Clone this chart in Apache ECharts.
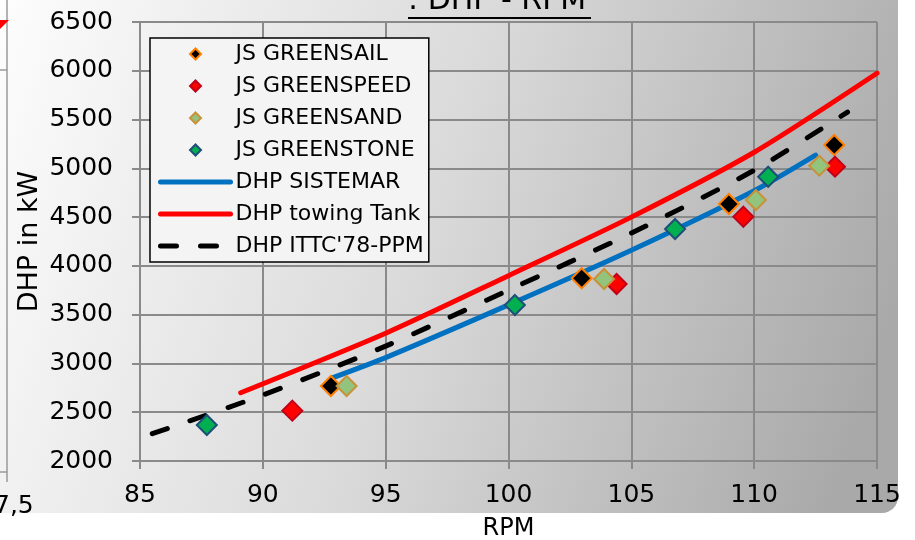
<!DOCTYPE html>
<html><head><meta charset="utf-8">
<script src="https://cdn.jsdelivr.net/npm/echarts@6/dist/echarts.min.js"></script>
<style>html,body{margin:0;padding:0;background:#fff}#c{width:915px;height:540px}</style>
</head><body><div id="c"></div>
<script>
// ---- data ----
const xMin = 85, xMax = 115, xStep = 5;
const yMin = 2000, yMax = 6500, yStep = 500;

const seriesNames = ['JS GREENSAIL','JS GREENSPEED','JS GREENSAND','JS GREENSTONE','DHP SISTEMAR','DHP towing Tank',"DHP ITTC'78-PPM"];

const greensailRPM = [92.77, 102.98, 108.97, 113.26];
const greensailDHP = [2769, 3873, 4634, 5239];

const greenspeedRPM = [91.2, 104.4, 109.56, 113.29];
const greenspeedDHP = [2516, 3814, 4504, 5017];

const greensandRPM = [93.41, 103.89, 110.07, 112.65];
const greensandDHP = [2769, 3866, 4675, 5027];

const greenstoneRPM = [87.72, 100.26, 106.78, 110.57];
const greenstoneDHP = [2369, 3599, 4378, 4914];

const sistemarRPM = [92.8, 95, 100, 105, 110, 112.5];
const sistemarDHP = [2850, 3060, 3600, 4160, 4770, 5135];

const towingRPM = [89.1, 95, 100, 105, 110, 115];
const towingDHP = [2700, 3310, 3900, 4500, 5165, 5975];

const ittcRPM = [85.5, 90, 95, 100, 105, 110, 113.8];
const ittcDHP = [2280, 2676, 3178, 3752, 4336, 4980, 5577];

// ---- helpers ----
const zip = (a, b) => a.map((v, i) => [v, b[i]]);
const FONT = 'DejaVu Sans';
const DIAMOND = 'path://M5,0 L10,5 L5,10 L0,5 Z';
const lineColors = ['#0070c0', '#ff0000', '#000000'];
const DASH = [16, 24];

function scatter(name, xs, ys, fill, border) {
  return {
    name, type: 'scatter', z: 4,
    symbol: 'diamond', symbolSize: 20,
    itemStyle: { color: fill, borderColor: border, borderWidth: 2, opacity: 1 },
    data: zip(xs, ys)
  };
}
function line(name, xs, ys, color, dashed) {
  return {
    name, type: 'line', z: 2, smooth: 0.25, showSymbol: false, symbol: 'none',
    itemStyle: { color },
    lineStyle: { color, width: 5, cap: 'round', join: 'round', type: dashed ? DASH : 'solid' },
    data: zip(xs, ys)
  };
}

const chart = echarts.init(document.getElementById('c'), null, { renderer: 'canvas' });
const axisGray = '#8a8a8a';

const legendData = seriesNames.map((n, i) => i < 4
  ? { name: n, icon: DIAMOND }
  : { name: n, itemStyle: { opacity: 0 },
      lineStyle: { color: lineColors[i - 4], width: 5, cap: 'round', type: i === 6 ? DASH : 'solid', opacity: 1 } });

chart.setOption({
  animation: false,
  backgroundColor: '#ffffff',
  textStyle: { fontFamily: FONT },
  graphic: [
    { type: 'rect', z: -100, silent: true,
      shape: { x: 0, y: 0, width: 898, height: 513, r: [0, 0, 16, 0] },
      style: { fill: { type: 'linear', x: 0, y: 0, x2: 900, y2: 300, global: true,
        colorStops: [{ offset: 0, color: '#fdfdfd' }, { offset: 0.5, color: '#dadada' }, { offset: 1, color: '#a9a9a9' }] } } },
    // neighbouring chart fragments on the left
    { type: 'line', z: -50, silent: true, shape: { x1: 7, y1: 0, x2: 7, y2: 482 }, style: { stroke: '#9a9a9a', lineWidth: 1.5 } },
    { type: 'line', z: -50, silent: true, shape: { x1: 0, y1: 70, x2: 7, y2: 70 }, style: { stroke: '#9a9a9a', lineWidth: 1.5 } },
    { type: 'line', z: -50, silent: true, shape: { x1: 0, y1: 472, x2: 7, y2: 472 }, style: { stroke: '#9a9a9a', lineWidth: 1.5 } },
    { type: 'polygon', z: -40, silent: true, shape: { points: [[0, 20], [9, 20], [0, 29]] }, style: { fill: '#ff0000' } },
    { type: 'text', z: -40, silent: true, left: -6, top: 494,
      style: { text: '7,5', font: '25px "DejaVu Sans"', fill: '#000' } },
    // cut title
    { type: 'text', z: 10, silent: true, x: 408, y: 16,
      style: { text: ': DHP - RPM', font: '30px "DejaVu Sans"', fill: '#000', textAlign: 'left', textVerticalAlign: 'bottom' } },
    { type: 'line', z: 10, silent: true, shape: { x1: 408, y1: 18, x2: 591, y2: 18 }, style: { stroke: '#000', lineWidth: 2 } }
  ],
  grid: { left: 140, right: 38, top: 22, bottom: 79, containLabel: false, outerBoundsMode: 'none' },
  legend: {
    orient: 'vertical', left: 150, top: 38,
    data: legendData,
    symbolKeepAspect: true,
    backgroundColor: '#f4f4f4', borderColor: '#000', borderWidth: 1.5, borderRadius: 0,
    padding: [5, 5, 5, 8],
    itemWidth: 70, itemHeight: 11, itemGap: 10,
    textStyle: { fontFamily: FONT, fontSize: 22, color: '#000', lineHeight: 22 },
    selectedMode: false
  },
  xAxis: {
    type: 'value', min: xMin, max: xMax, interval: xStep,
    name: 'RPM', nameLocation: 'middle', nameGap: 56, nameMoveOverlap: false,
    nameTextStyle: { fontFamily: FONT, fontSize: 24, color: '#000' },
    axisLine: { show: true, lineStyle: { color: axisGray, width: 2 } },
    axisTick: { show: true, length: 8, lineStyle: { color: axisGray, width: 2 } },
    axisLabel: { fontFamily: FONT, fontSize: 25, color: '#000', margin: 22, formatter: v => String(v) },
    splitLine: { show: true, lineStyle: { color: axisGray, width: 2 } }
  },
  yAxis: {
    type: 'value', min: yMin, max: yMax, interval: yStep,
    name: 'DHP in kW', nameLocation: 'middle', nameGap: 97, nameMoveOverlap: false,
    nameTextStyle: { fontFamily: FONT, fontSize: 27, color: '#000' },
    axisLine: { show: true, lineStyle: { color: axisGray, width: 2 } },
    axisTick: { show: true, length: 8, lineStyle: { color: axisGray, width: 2 } },
    axisLabel: { fontFamily: FONT, fontSize: 25, color: '#000', margin: 27, formatter: v => String(v) },
    splitLine: { show: true, lineStyle: { color: axisGray, width: 2 } }
  },
  series: [
    scatter(seriesNames[0], greensailRPM, greensailDHP, '#000000', '#ff7f00'),
    scatter(seriesNames[1], greenspeedRPM, greenspeedDHP, '#ff0000', '#c00018'),
    scatter(seriesNames[2], greensandRPM, greensandDHP, '#93c47d', '#c8913a'),
    scatter(seriesNames[3], greenstoneRPM, greenstoneDHP, '#00b050', '#1f4e79'),
    line(seriesNames[4], sistemarRPM, sistemarDHP, lineColors[0], false),
    line(seriesNames[5], towingRPM, towingDHP, lineColors[1], false),
    line(seriesNames[6], ittcRPM, ittcDHP, lineColors[2], true)
  ]
});
</script></body></html>
